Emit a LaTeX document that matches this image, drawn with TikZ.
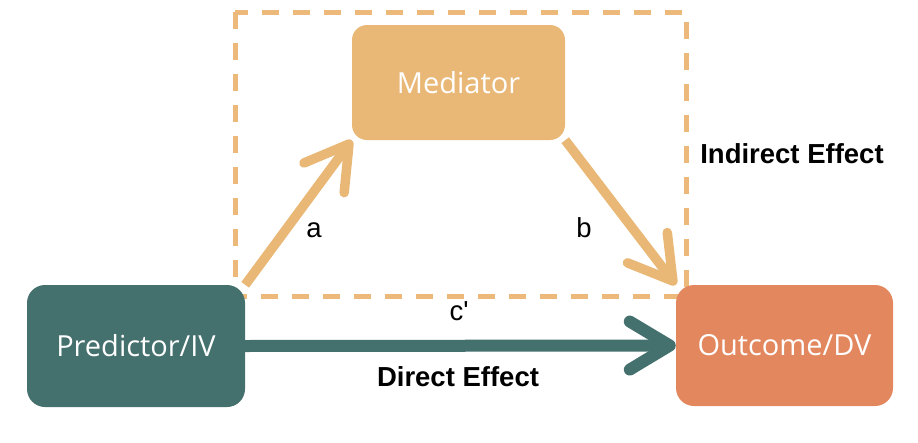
\documentclass[tikz,border=0pt]{standalone}
\usepackage{fontspec}
\setmainfont{Liberation Sans}
\newfontfamily\boxfont{Open Sans}
\usetikzlibrary{arrows.meta}
\definecolor{tealc}{HTML}{44706D}
\definecolor{outc}{HTML}{E3875F}
\definecolor{medc}{HTML}{E9B877}
\definecolor{dashc}{HTML}{EDB97A}
\tikzset{
  varbox/.style={rounded corners=18pt, inner sep=0pt, text=white,
    font=\boxfont\fontsize{29}{32}\selectfont},
  lbl/.style={anchor=base, inner sep=0pt, font=\fontsize{27.5}{30}\selectfont},
  blbl/.style={lbl, font=\bfseries\fontsize{27.5}{30}\selectfont},
  patharrow/.style={draw=medc, line width=9.5pt,
    -{Straight Barb[length=42pt, width=50pt, round]}},
  directarrow/.style={draw=tealc, line width=12pt,
    -{Straight Barb[length=40pt, width=48pt, round]}},
  dashbox/.style={draw=dashc, line width=5pt, dash pattern=on 17pt off 14pt}
}
\begin{document}
\begin{tikzpicture}[x=1pt, y=-1pt]
\useasboundingbox (0,0) rectangle (918,442);
\draw[dashbox] (235,12) rectangle (686,296);
\node[varbox, fill=tealc, minimum width=218pt, minimum height=122pt] (pred) at (136,346) {Predictor/IV};
\node[varbox, fill=outc, minimum width=217pt, minimum height=121pt] (out) at (784.5,345.5) {Outcome/DV};
\node[varbox, fill=medc, rounded corners=15pt, minimum width=213pt, minimum height=115pt] (med) at (458.5,82.5) {Mediator};
\draw[patharrow] (pred.north east) -- (med.south west);
\draw[patharrow] (med.south east) -- (out.north west);
\draw[directarrow] (pred.east) -- (out.west);
\node[lbl] (la) at (314,237) {a};
\node[lbl] (lb) at (584,237) {b};
\node[lbl] (lc) at (459,320) {c\textquotesingle};
\node[blbl] (ld) at (458,386) {Direct Effect};
\node[blbl] (li) at (792,163) {Indirect Effect};
\end{tikzpicture}
\end{document}
